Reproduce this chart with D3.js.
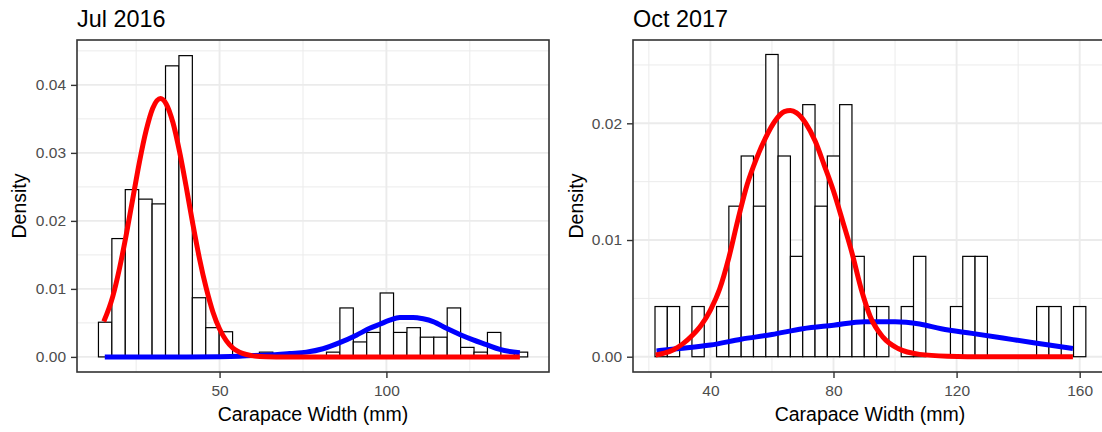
<!DOCTYPE html>
<html>
<head>
<meta charset="utf-8">
<script src="https://cdn.jsdelivr.net/npm/d3@7"></script>
<style>
  html, body { margin: 0; padding: 0; background: #ffffff; }
  svg { display: block; }
  text { font-family: "Liberation Sans", Arial, sans-serif; }
</style>
</head>
<body>
<svg id="chart" width="1102" height="432"></svg>
<script>
// ---------------- DATA ----------------
const titles = ["Jul 2016", "Oct 2017"];
const xAxisTitle = "Carapace Width (mm)";
const yAxisTitle = "Density";

// Jul 2016 histogram (32 bins)
const julBinStart = 13.7;
const julBinWidth = 4.02;
const julDensity = [0.0051, 0.0174, 0.0246, 0.0232, 0.0225, 0.0428, 0.0443, 0.0087,
  0.0043, 0.0037, 0, 0, 0.0007, 0, 0, 0, 0, 0.0007, 0.0072, 0.0022, 0.0036, 0.0094,
  0.0036, 0.0043, 0.0029, 0.0029, 0.0072, 0.0014, 0.0007, 0.0036, 0, 0.0007];

// Oct 2017 histogram (35 bins)
const octBinStart = 22;
const octBinWidth = 4;
const octDensity = [0.0043, 0.0043, 0, 0.0043, 0, 0.0043, 0.0129, 0.0172, 0.0129, 0.0259,
  0.0172, 0.0086, 0.0216, 0.0129, 0.0172, 0.0216, 0.0086, 0.0043, 0.0043, 0, 0.0043,
  0.0086, 0, 0, 0.0043, 0.0086, 0.0086, 0, 0, 0, 0, 0.0043, 0.0043, 0, 0.0043];

// Fitted component curves [width, density]
const julRed = [[15.3,0.0052],[18,0.0089],[20,0.0130],[22,0.0179],[24,0.0233],[26,0.0287],
  [28,0.0333],[30,0.0366],[32.3,0.0380],[34,0.0372],[36,0.0345],[38,0.0302],[40,0.0250],
  [42,0.0195],[44,0.0144],[46,0.0101],[48,0.0066],[50,0.0041],[52,0.0024],[54,0.0013],
  [56,0.0007],[58,0.00035],[60,0.00015],[64,0.00003],[70,0],[140,0]];
const julBlue = [[15.6,0],[40,0],[50,0.00003],[56,0.0001],[60,0.0002],[66,0.0003],
  [71,0.0005],[76,0.0007],[81,0.0012],[86,0.0021],[91,0.0032],[95,0.0042],[98,0.0048],
  [101,0.0054],[104,0.0058],[108,0.0058],[111,0.0056],[114,0.0052],[118,0.0042],
  [122,0.0033],[126,0.0025],[130,0.0018],[134,0.0011],[140,0.0006]];
const octRed = [[22.2,0.00015],[25,0.0003],[28,0.0006],[31,0.0011],[34,0.0018],[37,0.0027],
  [40,0.0040],[43,0.0058],[46,0.0085],[49,0.0118],[52,0.0148],[55,0.0170],[58,0.0188],
  [61,0.0202],[64,0.0210],[66,0.0211],[68,0.0209],[71,0.0200],[74,0.0185],[77,0.0164],
  [80,0.0142],[83,0.0116],[86,0.0089],[89,0.0058],[92,0.0034],[96,0.0017],[101,0.0007],
  [108,0.0002],[117,0.00005],[130,0],[157.8,0]];
const octBlue = [[22.5,0.0005],[30,0.0007],[40,0.0010],[50,0.0015],[60,0.0019],[70,0.0024],
  [80,0.0027],[90,0.0030],[100,0.0030],[108,0.0028],[115,0.0024],[125,0.0020],
  [135,0.0016],[145,0.0012],[157.8,0.0007]];

// Axis ticks
const julXTicks = [50, 100];
const julXMinor = [25, 75, 125];
const julYTicks = [0, 0.01, 0.02, 0.03, 0.04];
const julYMinor = [0.005, 0.015, 0.025, 0.035, 0.045];
const octXTicks = [40, 80, 120, 160];
const octXMinor = [20, 60, 100, 140];
const octYTicks = [0, 0.01, 0.02];
const octYMinor = [0.005, 0.015, 0.025];

// ---------------- DRAW ----------------
const svg = d3.select("#chart");

const panels = [
  { title: titles[0], x0: 77, x1: 549, y0: 40, y1: 372,
    xDomain: [7.27, 148.73], yDomain: [-0.00222, 0.0466],
    binStart: julBinStart, binWidth: julBinWidth, dens: julDensity,
    red: julRed, blue: julBlue,
    xTicks: julXTicks, xMinor: julXMinor, yTicks: julYTicks, yMinor: julYMinor,
    yTitleX: 26, xTitleX: 313 },
  { title: titles[1], x0: 633, x1: 1108, y0: 40, y1: 372,
    xDomain: [14.85, 169.2], yDomain: [-0.00131, 0.02714],
    binStart: octBinStart, binWidth: octBinWidth, dens: octDensity,
    red: octRed, blue: octBlue,
    xTicks: octXTicks, xMinor: octXMinor, yTicks: octYTicks, yMinor: octYMinor,
    yTitleX: 583, xTitleX: 870 }
];

panels.forEach((p, pi) => {
  const x = d3.scaleLinear().domain(p.xDomain).range([p.x0, p.x1]);
  const y = d3.scaleLinear().domain(p.yDomain).range([p.y1, p.y0]);
  const g = svg.append("g");
  const clipId = "clip" + pi;
  svg.append("clipPath").attr("id", clipId)
    .append("rect").attr("x", p.x0).attr("y", p.y0)
    .attr("width", p.x1 - p.x0).attr("height", p.y1 - p.y0);

  const inner = g.append("g").attr("clip-path", `url(#${clipId})`);
  // minor grid
  inner.selectAll(".vminor").data(p.xMinor).enter().append("line")
    .attr("x1", d => x(d)).attr("x2", d => x(d)).attr("y1", p.y0).attr("y2", p.y1)
    .attr("stroke", "#ebebeb").attr("stroke-width", 1);
  inner.selectAll(".hminor").data(p.yMinor).enter().append("line")
    .attr("y1", d => y(d)).attr("y2", d => y(d)).attr("x1", p.x0).attr("x2", p.x1)
    .attr("stroke", "#ebebeb").attr("stroke-width", 1);
  // major grid
  inner.selectAll(".vmajor").data(p.xTicks).enter().append("line")
    .attr("x1", d => x(d)).attr("x2", d => x(d)).attr("y1", p.y0).attr("y2", p.y1)
    .attr("stroke", "#ebebeb").attr("stroke-width", 1.9);
  inner.selectAll(".hmajor").data(p.yTicks).enter().append("line")
    .attr("y1", d => y(d)).attr("y2", d => y(d)).attr("x1", p.x0).attr("x2", p.x1)
    .attr("stroke", "#ebebeb").attr("stroke-width", 1.9);

  // histogram bars
  const bins = p.dens.map((d, i) => ({ lo: p.binStart + i * p.binWidth,
    hi: p.binStart + (i + 1) * p.binWidth, v: d }));
  inner.selectAll(".bar").data(bins).enter().append("rect")
    .attr("x", d => x(d.lo)).attr("width", d => x(d.hi) - x(d.lo))
    .attr("y", d => y(d.v)).attr("height", d => y(0) - y(d.v))
    .attr("fill", "#ffffff").attr("stroke", "#000000").attr("stroke-width", 1.2);

  // curves
  const line = d3.line().x(d => x(d[0])).y(d => y(d[1])).curve(d3.curveMonotoneX);
  inner.append("path").datum(p.blue).attr("d", line)
    .attr("fill", "none").attr("stroke", "#0000ff").attr("stroke-width", 5)
    .attr("stroke-linejoin", "round");
  inner.append("path").datum(p.red).attr("d", line)
    .attr("fill", "none").attr("stroke", "#ff0000").attr("stroke-width", 5)
    .attr("stroke-linejoin", "round");

  // panel border
  g.append("rect").attr("x", p.x0).attr("y", p.y0)
    .attr("width", p.x1 - p.x0).attr("height", p.y1 - p.y0)
    .attr("fill", "none").attr("stroke", "#333333").attr("stroke-width", 1.6);

  // x axis
  const xAxis = d3.axisBottom(x).tickValues(p.xTicks).tickSize(6).tickPadding(6)
    .tickFormat(d3.format("d"));
  const xg = g.append("g").attr("transform", `translate(0,${p.y1})`).call(xAxis);
  xg.select(".domain").remove();
  xg.selectAll(".tick line").attr("stroke", "#333333").attr("stroke-width", 1.4);
  xg.selectAll(".tick text").attr("fill", "#4d4d4d").attr("font-size", "15.5px")
    .attr("font-family", "'Liberation Sans', Arial, sans-serif")
    .attr("dy", null).attr("y", 24);

  // y axis
  const yAxis = d3.axisLeft(y).tickValues(p.yTicks).tickSize(6).tickPadding(5)
    .tickFormat(d3.format(".2f"));
  const yg = g.append("g").attr("transform", `translate(${p.x0},0)`).call(yAxis);
  yg.select(".domain").remove();
  yg.selectAll(".tick line").attr("stroke", "#333333").attr("stroke-width", 1.4);
  yg.selectAll(".tick text").attr("fill", "#4d4d4d").attr("font-size", "15.5px")
    .attr("font-family", "'Liberation Sans', Arial, sans-serif");

  // titles
  g.append("text").attr("x", p.x0).attr("y", 27).text(p.title)
    .attr("font-size", "23.4px").attr("fill", "#000");
  g.append("text").attr("x", p.xTitleX)
    .attr("y", 421).attr("text-anchor", "middle").text(xAxisTitle)
    .attr("font-size", "19.5px").attr("fill", "#000");
  g.append("text").attr("transform", `translate(${p.yTitleX},${(p.y0 + p.y1) / 2}) rotate(-90)`)
    .attr("text-anchor", "middle").text(yAxisTitle)
    .attr("font-size", "19.5px").attr("fill", "#000");
});
</script>
</body>
</html>
